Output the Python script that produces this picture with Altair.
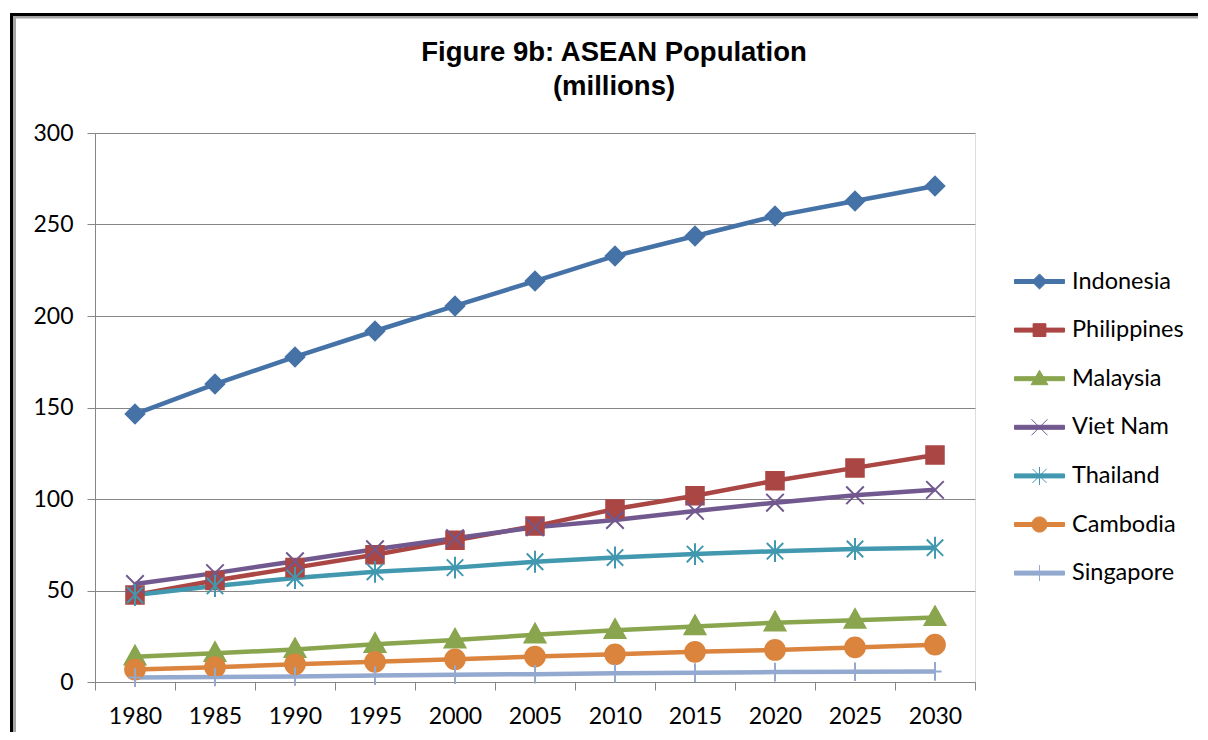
import altair as alt
import pandas as pd

years = [1980, 1985, 1990, 1995, 2000, 2005, 2010, 2015, 2020, 2025, 2030]
countries = ["Indonesia", "Philippines", "Malaysia", "Viet Nam", "Thailand", "Cambodia", "Singapore"]
indonesia = [146.4, 162.8, 177.6, 191.8, 205.5, 219.1, 232.8, 243.7, 254.6, 262.8, 271.0]
philippines = [47.5, 55.5, 62.5, 69.5, 77.5, 85.2, 94.5, 101.8, 110.0, 117.0, 124.0]
malaysia = [13.8, 15.7, 17.8, 20.6, 23.0, 25.8, 28.3, 30.3, 32.4, 33.8, 35.3]
vietnam = [53.5, 59.5, 66.0, 72.5, 78.5, 84.5, 88.5, 93.5, 98.0, 102.0, 105.0]
thailand = [47.5, 52.5, 56.8, 60.2, 62.5, 65.7, 68.0, 69.9, 71.5, 72.7, 73.4]
cambodia = [6.8, 8.1, 9.7, 11.0, 12.4, 13.9, 15.1, 16.5, 17.5, 18.9, 20.4]
singapore = [2.4, 2.7, 3.0, 3.5, 4.0, 4.3, 4.8, 5.1, 5.4, 5.6, 5.8]
colors = ["#4572A7", "#AA4643", "#89A54E", "#71588F", "#4198AF", "#DB843D", "#93A9CF"]
y_ticks = [0, 50, 100, 150, 200, 250, 300]

series = [indonesia, philippines, malaysia, vietnam, thailand, cambodia, singapore]
rows = []
for c, vals in zip(countries, series):
    for yr, v in zip(years, vals):
        rows.append({"year": str(yr), "country": c, "value": v})
df = pd.DataFrame(rows)

# marker shapes in the plot (unit box)
plot_paths = [
    "M0,-0.85L0.85,0L0,0.85L-0.85,0Z",
    "M-0.8,-0.8H0.8V0.8H-0.8Z",
    "M0,-1L0.95,0.7H-0.95Z",
    "M-0.8,-0.8L0.8,0.8M-0.8,0.8L0.8,-0.8",
    "M-0.75,-0.75L0.75,0.75M-0.75,0.75L0.75,-0.75M0,-1L0,1",
    "M-0.9,0A0.9,0.9,0,1,1,0.9,0A0.9,0.9,0,1,1,-0.9,0Z",
    "M-0.6,0H0.6M0,-0.85V0.85",
]
# legend symbols: line segment plus marker (20 px per unit at size 1600)
LINE = "M-1.25,-0.1H1.25V0.1H-1.25Z"
legend_paths = [
    LINE + "M0,-0.38L0.38,0L0,0.38L-0.38,0Z",
    LINE + "M-0.32,-0.32H0.32V0.32H-0.32Z",
    LINE + "M0,-0.42L0.42,0.3H-0.42Z",
    LINE + "M-0.4,-0.4L0.4,0.4M-0.4,0.4L0.4,-0.4",
    LINE + "M-0.35,-0.35L0.35,0.35M-0.35,0.35L0.35,-0.35M0,-0.45L0,0.45",
    LINE + "M-0.38,0A0.38,0.38,0,1,1,0.38,0A0.38,0.38,0,1,1,-0.38,0Z",
    LINE + "M0,-0.4L0,0.4",
]

GRAY = "#868686"
FONT = "Lato"

x_enc = alt.X(
    "year:O",
    sort=[str(y) for y in years],
    scale=alt.Scale(type="band", paddingInner=0, paddingOuter=0),
    axis=alt.Axis(
        title=None, labelAngle=0, tickBand="extent", tickSize=8,
        tickColor=GRAY, domainColor=GRAY, labelFont=FONT, labelFontSize=23,
        labelColor="black", labelPadding=15, grid=False,
    ),
)
y_enc = alt.Y(
    "value:Q",
    scale=alt.Scale(domain=[0, 300], nice=False),
    axis=alt.Axis(
        title=None, values=y_ticks, tickSize=8, tickColor=GRAY, domainColor=GRAY,
        grid=True, gridColor=GRAY, gridWidth=1, labelFont=FONT, labelFontSize=23,
        labelColor="black", labelPadding=14,
    ),
)

color_scale = alt.Scale(domain=countries, range=colors)

lines = alt.Chart(df).mark_line(strokeWidth=4.5).encode(
    x=x_enc, y=y_enc,
    color=alt.Color("country:N", scale=color_scale, legend=None),
)

points = alt.Chart(df).mark_point(filled=True, size=480, strokeWidth=2, opacity=1).encode(
    x=x_enc, y=y_enc,
    color=alt.Color("country:N", scale=color_scale, legend=None),
    stroke=alt.Stroke("country:N", scale=color_scale, legend=None),
    shape=alt.Shape("country:N", scale=alt.Scale(domain=countries, range=plot_paths), legend=None),
)

leg = alt.Legend(
    title=None, orient="none", legendX=924, legendY=128, padding=0,
    symbolSize=1600, symbolStrokeWidth=1, labelFont=FONT, labelFontSize=23.5,
    labelColor="black", labelOffset=12, rowPadding=16.6, labelLimit=300,
)
legend_layer = alt.Chart(df).transform_filter("datum.value < 0").mark_point(
    filled=True, opacity=1, strokeWidth=1
).encode(
    x=x_enc, y=y_enc,
    color=alt.Color("country:N", scale=color_scale, legend=leg),
    stroke=alt.Stroke("country:N", scale=color_scale, legend=leg),
    shape=alt.Shape("country:N", scale=alt.Scale(domain=countries, range=legend_paths), legend=leg),
)

one = alt.Data(values=[{"k": 1}])
frame_left = alt.Chart(one).mark_rule(color="black", strokeWidth=3).encode(
    x=alt.value(-83.5), y=alt.value(-120), y2=alt.value(620))
frame_top = alt.Chart(one).mark_rule(color="black", strokeWidth=3).encode(
    y=alt.value(-118.5), x=alt.value(-85), x2=alt.value(1130))
shade_left = alt.Chart(one).mark_rule(color="#a6a6a6", strokeWidth=3).encode(
    x=alt.value(-80.5), y=alt.value(-117), y2=alt.value(620))
shade_top = alt.Chart(one).mark_rule(color="#a6a6a6", strokeWidth=2.5).encode(
    y=alt.value(-115.8), x=alt.value(-82), x2=alt.value(1130))

chart = alt.layer(
    shade_left, shade_top, frame_left, frame_top, lines, points, legend_layer
).resolve_scale(
    color="independent", stroke="independent", shape="independent"
).properties(
    width=880, height=549,
    autosize=alt.AutoSizeParams(type="none"),
    padding={"left": 87, "top": 125, "right": 223, "bottom": 50},
    title=alt.Title(
        ["Figure 9b: ASEAN Population", "(millions)"],
        font="Liberation Sans", fontSize=27.5, fontWeight="bold", color="black",
        anchor="middle", dx=79, dy=148, offset=31, lineHeight=34, baseline="bottom",
    ),
).configure_view(stroke=None).configure(background="white")

chart.save("out.html", embed_options={"renderer": "svg", "actions": False})
